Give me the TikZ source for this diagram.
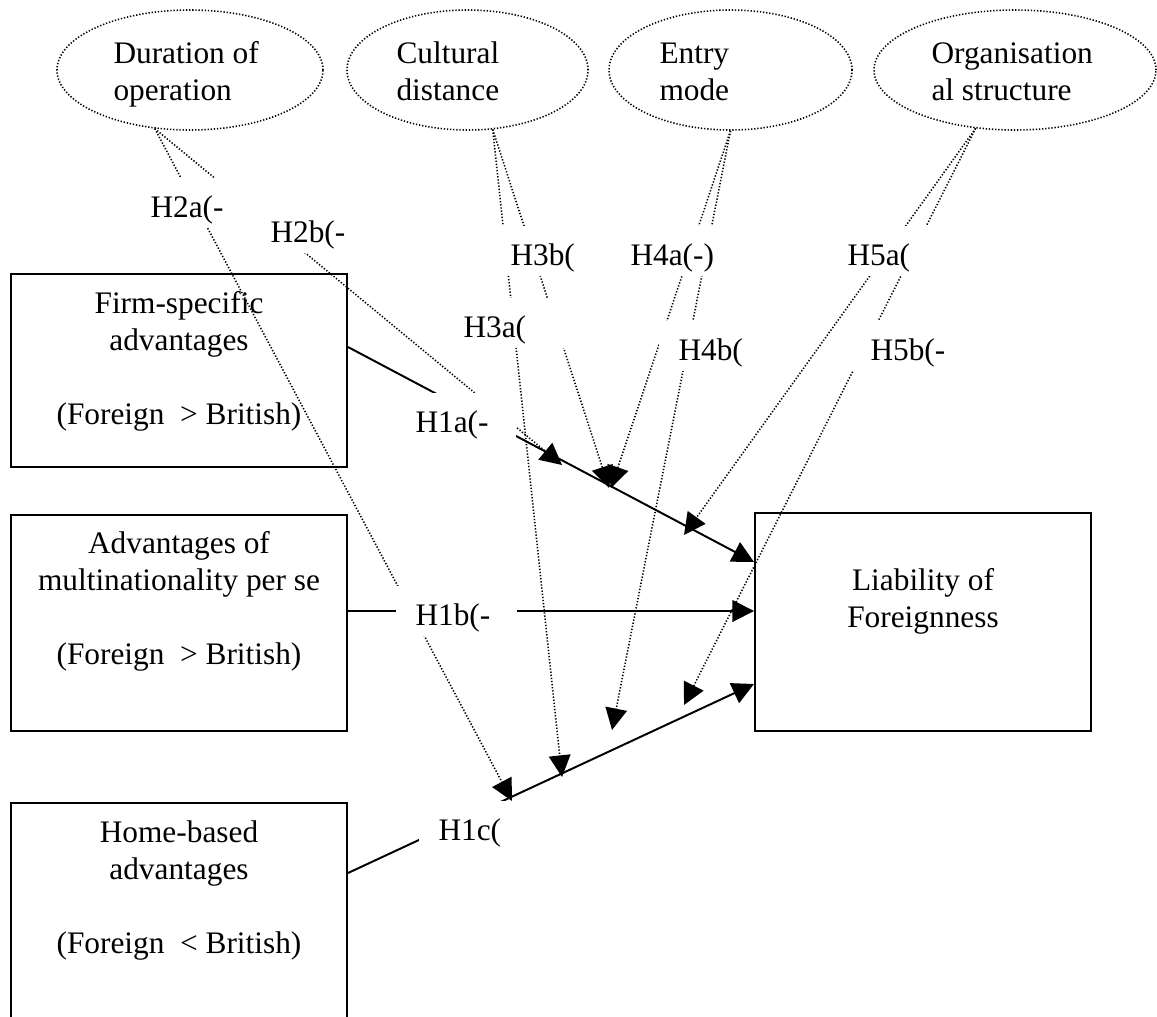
\documentclass[tikz,border=0pt]{standalone}
\usepackage{fontspec}
\setmainfont{Liberation Serif}
\usetikzlibrary{arrows.meta,shapes.geometric,calc}
\pgfdeclarelayer{back}
\pgfsetlayers{back,main}
\def\pxs{0.383pt}
\begin{document}
\begin{tikzpicture}[x=0.383pt,y=-0.383pt,
  every node/.style={font=\fontsize{12}{14.2}\selectfont},
  sbox/.style={draw,line width=0.75pt,inner sep=0pt,minimum width=336*\pxs},
  oval/.style={ellipse,draw,line width=0.6pt,dash pattern=on 0.5pt off 0.7pt,minimum height=120*\pxs,inner sep=0pt},
  ttext/.style={inner sep=0pt,anchor=north west,align=left},
  ctext/.style={inner sep=0pt,anchor=north,align=center},
  hlab/.style={fill=white,anchor=north west,inner xsep=20*\pxs,inner ysep=0pt,text height=40*\pxs,text depth=10*\pxs,align=left},
  dotarrow/.style={line width=0.6pt,dash pattern=on 0.5pt off 0.7pt,-{Triangle[length=8.3pt,width=8.3pt]}},
  solidarrow/.style={line width=0.75pt,-{Triangle[length=8.3pt,width=8.3pt]}}
]
\useasboundingbox (0,0) rectangle (1157,1016);

% moderator ellipses
\node[oval,minimum width=266*\pxs] (e1) at (190,70) {};
\node[oval,minimum width=241*\pxs] (e2) at (467.5,70) {};
\node[oval,minimum width=243*\pxs] (e3) at (730.5,70) {};
\node[oval,minimum width=282*\pxs] (e4) at (1015,70) {};
\node[ttext] (e1t) at (113,37) {\strut Duration of\\\strut operation};
\node[ttext] (e2t) at (396,37) {\strut Cultural\\\strut distance};
\node[ttext] (e3t) at (659,37) {\strut Entry\\\strut mode};
\node[ttext] (e4t) at (931,37) {\strut Organisation\\\strut al structure};

% boxes
\node[sbox,minimum height=193*\pxs] (fsa) at (179,370.5) {};
\node[sbox,minimum height=216*\pxs] (mnc) at (179,623) {};
\node[sbox,minimum height=220*\pxs] (hba) at (179,913) {};
\node[sbox,minimum height=218*\pxs] (lof) at (923,622) {};
\node[ctext] (fsat) at (179,287) {\strut Firm-specific\\\strut advantages\\\strut\\\strut (Foreign~~> British)};
\node[ctext] (mnct) at (179,527) {\strut Advantages of\\\strut multinationality per se\\\strut\\\strut (Foreign~~> British)};
\node[ctext] (hbat) at (179,816) {\strut Home-based\\\strut advantages\\\strut\\\strut (Foreign~~< British)};
\node[ctext] (loft) at (923,564) {\strut Liability of\\\strut Foreignness};

% hypothesis labels (white text boxes)
\node[hlab,text width=85*\pxs] (h2a) at (130,177) {H2a(-};
\node[hlab,text width=76*\pxs] (h2b) at (250,202) {H2b(-};
\node[hlab,text width=70*\pxs] (h3b) at (490,225) {H3b(};
\node[hlab,text width=90*\pxs] (h4a) at (610,225) {H4a(-)};
\node[hlab,text width=65*\pxs] (h5a) at (827,225) {H5a(};
\node[hlab,text width=85*\pxs] (h3a) at (443,297) {H3a(};
\node[hlab,text width=68*\pxs] (h4b) at (658,320) {H4b(};
\node[hlab,text width=80*\pxs] (h5b) at (850,320) {H5b(-};
\node[hlab,text width=80*\pxs] (h1a) at (395,392) {H1a(-};
\node[hlab,text width=81*\pxs] (h1b) at (395,585) {H1b(-};
\node[hlab,text width=64*\pxs] (h1c) at (418,800) {H1c(};

% arrow tip points on the main paths
\coordinate (t2a) at (512,801);
\coordinate (t2b) at (562,465);
\coordinate (t3a) at (562,777);
\coordinate (t3b) at (609,488);
\coordinate (t4a) at (611,488);
\coordinate (t4b) at (612,730);
\coordinate (t5a) at (684,535);
\coordinate (t5b) at (684,705);

\begin{pgfonlayer}{back}
\draw[solidarrow] ($(fsa.east)+(0,-23.5)$) -- ($(lof.west)+(0,-60)$);
\draw[solidarrow] ($(mnc.east)+(0,-12)$) -- ($(lof.west)+(0,-11)$);
\draw[solidarrow] ($(hba.east)+(0,-40)$) -- ($(lof.west)+(0,62)$);
\draw[dotarrow] (e1.239) -- (t2a);
\draw[dotarrow] (e1.239) -- (t2b);
\draw[dotarrow] (e2.293) -- (t3a);
\draw[dotarrow] (e2.293) -- (t3b);
\draw[dotarrow] (e3.270) -- (t4a);
\draw[dotarrow] (e3.270) -- (t4b);
\draw[dotarrow] (e4.236) -- (t5a);
\draw[dotarrow] (e4.236) -- (t5b);
\end{pgfonlayer}
\end{tikzpicture}
\end{document}
